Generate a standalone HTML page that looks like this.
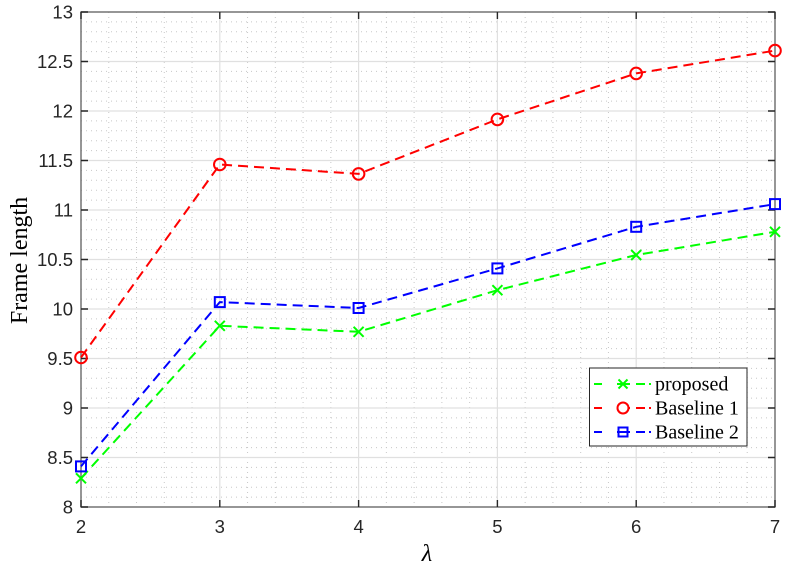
<!DOCTYPE html>
<html>
<head>
<meta charset="utf-8">
<style>
html,body{margin:0;padding:0;background:#fff;}
svg{display:block;}
</style>
</head>
<body>
<svg width="812" height="572" viewBox="0 0 812 572" xmlns="http://www.w3.org/2000/svg">
<rect x="0" y="0" width="812" height="572" fill="#fff"/>
<rect x="81" y="12" width="694" height="495" fill="#fff"/>
<!-- minor grid -->
<path d="M81 21.9H775M81 31.8H775M81 41.7H775M81 51.6H775M81 71.4H775M81 81.3H775M81 91.2H775M81 101.1H775M81 120.9H775M81 130.8H775M81 140.7H775M81 150.6H775M81 170.4H775M81 180.3H775M81 190.2H775M81 200.1H775M81 219.9H775M81 229.8H775M81 239.7H775M81 249.6H775M81 269.4H775M81 279.3H775M81 289.2H775M81 299.1H775M81 318.9H775M81 328.8H775M81 338.7H775M81 348.6H775M81 368.4H775M81 378.3H775M81 388.2H775M81 398.1H775M81 417.9H775M81 427.8H775M81 437.7H775M81 447.6H775M81 467.4H775M81 477.3H775M81 487.2H775M81 497.1H775" stroke="#c8c8c8" stroke-width="1" stroke-dasharray="1,4" fill="none"/>
<path d="M108.76 12V507M136.52 12V507M164.28 12V507M192.04 12V507M247.56 12V507M275.32 12V507M303.08 12V507M330.84 12V507M386.36 12V507M414.12 12V507M441.88 12V507M469.64 12V507M525.16 12V507M552.92 12V507M580.68 12V507M608.44 12V507M663.96 12V507M691.72 12V507M719.48 12V507M747.24 12V507" stroke="#c8c8c8" stroke-width="1" stroke-dasharray="1,4" fill="none"/>
<!-- major grid -->
<path d="M81 61.5H775M81 111H775M81 160.5H775M81 210H775M81 259.5H775M81 309H775M81 358.5H775M81 408H775M81 457.5H775M219.8 12V507M358.6 12V507M497.4 12V507M636.2 12V507" stroke="#e0e0e0" stroke-width="1.2" fill="none"/>
<!-- axes box -->
<rect x="81" y="12" width="694" height="495" fill="none" stroke="#6a6a6a" stroke-width="1.4"/>
<!-- ticks -->
<path d="M81 12h7M81 61.5h7M81 111h7M81 160.5h7M81 210h7M81 259.5h7M81 309h7M81 358.5h7M81 408h7M81 457.5h7M81 507h7M775 12h-7M775 61.5h-7M775 111h-7M775 160.5h-7M775 210h-7M775 259.5h-7M775 309h-7M775 358.5h-7M775 408h-7M775 457.5h-7M775 507h-7M81 507v-7M219.8 507v-7M358.6 507v-7M497.4 507v-7M636.2 507v-7M775 507v-7M81 12v7M219.8 12v7M358.6 12v7M497.4 12v7M636.2 12v7M775 12v7" stroke="#262626" stroke-width="1.4" fill="none"/>
<!-- y tick labels -->
<g font-family="Liberation Sans, Arial, sans-serif" font-size="18.5" fill="#262626" text-anchor="end">
<text x="73" y="18.5">13</text>
<text x="73" y="68">12.5</text>
<text x="73" y="117.5">12</text>
<text x="73" y="167">11.5</text>
<text x="73" y="216.5">11</text>
<text x="73" y="266">10.5</text>
<text x="73" y="315.5">10</text>
<text x="73" y="365">9.5</text>
<text x="73" y="414.5">9</text>
<text x="73" y="464">8.5</text>
<text x="73" y="513.5">8</text>
</g>
<!-- x tick labels -->
<g font-family="Liberation Sans, Arial, sans-serif" font-size="18.5" fill="#262626" text-anchor="middle">
<text x="81" y="533">2</text>
<text x="219.8" y="533">3</text>
<text x="358.6" y="533">4</text>
<text x="497.4" y="533">5</text>
<text x="636.2" y="533">6</text>
<text x="775" y="533">7</text>
</g>
<!-- axis labels -->
<text x="427" y="561" font-family="Liberation Serif, Times New Roman, serif" font-style="italic" font-size="24" fill="#000" text-anchor="middle">λ</text>
<text transform="translate(27,260.5) rotate(-90)" font-family="Liberation Serif, Times New Roman, serif" font-size="24" fill="#000" text-anchor="middle">Frame length</text>
<!-- series lines -->
<polyline points="81,478.3 219.8,325.8 358.6,331.8 497.4,290.2 636.2,255 775,231.8" fill="none" stroke="#00ff00" stroke-width="2" stroke-dasharray="10,6"/>
<polyline points="81,357.5 219.8,164.5 358.6,173.9 497.4,119.4 636.2,73.4 775,50.6" fill="none" stroke="#ff0000" stroke-width="2" stroke-dasharray="10,6"/>
<polyline points="81,466.4 219.8,302.1 358.6,308 497.4,268.4 636.2,226.8 775,204.1" fill="none" stroke="#0000ff" stroke-width="2" stroke-dasharray="10,6"/>
<!-- markers green x -->
<g stroke="#00ff00" stroke-width="2" fill="none">
<path d="M76 473.3l10 10M86 473.3l-10 10"/>
<path d="M214.8 320.8l10 10M224.8 320.8l-10 10"/>
<path d="M353.6 326.8l10 10M363.6 326.8l-10 10"/>
<path d="M492.4 285.2l10 10M502.4 285.2l-10 10"/>
<path d="M631.2 250l10 10M641.2 250l-10 10"/>
<path d="M770 226.8l10 10M780 226.8l-10 10"/>
</g>
<!-- markers red circles -->
<g stroke="#ff0000" stroke-width="2" fill="none">
<circle cx="81" cy="357.5" r="5.8"/>
<circle cx="219.8" cy="164.5" r="5.8"/>
<circle cx="358.6" cy="173.9" r="5.8"/>
<circle cx="497.4" cy="119.4" r="5.8"/>
<circle cx="636.2" cy="73.4" r="5.8"/>
<circle cx="775" cy="50.6" r="5.8"/>
</g>
<!-- markers blue squares -->
<g stroke="#0000ff" stroke-width="2" fill="none">
<rect x="76" y="461.4" width="10" height="10"/>
<rect x="214.8" y="297.1" width="10" height="10"/>
<rect x="353.6" y="303" width="10" height="10"/>
<rect x="492.4" y="263.4" width="10" height="10"/>
<rect x="631.2" y="221.8" width="10" height="10"/>
<rect x="770" y="199.1" width="10" height="10"/>
</g>
<!-- legend -->
<rect x="589.5" y="368" width="157.5" height="78" fill="#fff" stroke="#262626" stroke-width="1"/>
<g stroke-width="2" fill="none">
<path d="M594 384h8M617 384h13M636 384h9M649 384h2" stroke="#00ff00"/>
<path d="M618.5 379.5l9 9M627.5 379.5l-9 9" stroke="#00ff00"/>
<path d="M594 408h8M617 408h13M636 408h9M649 408h2" stroke="#ff0000"/>
<circle cx="623" cy="408" r="5.5" stroke="#ff0000" fill="#fff"/>
<path d="M594 432h8M617 432h13M636 432h9M649 432h2" stroke="#0000ff"/>
<rect x="618.5" y="427.5" width="9" height="9" stroke="#0000ff"/>
</g>
<g font-family="Liberation Serif, Times New Roman, serif" font-size="20" fill="#000">
<text x="655" y="390.5">proposed</text>
<text x="655" y="414.5">Baseline 1</text>
<text x="655" y="438.5">Baseline 2</text>
</g>
</svg>
</body>
</html>
